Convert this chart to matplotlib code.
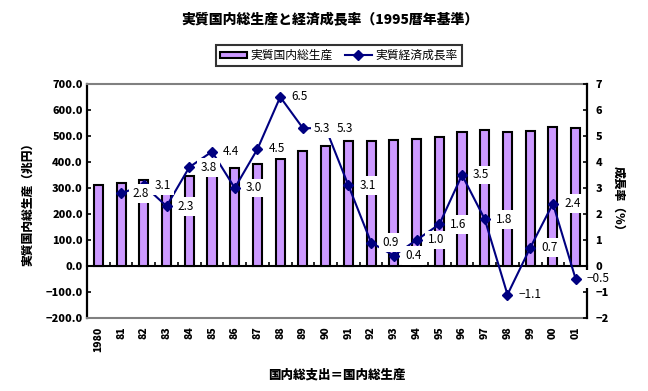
import numpy as np
import matplotlib.pyplot as plt

plt.rcParams['font.family'] = ['Noto Sans CJK JP', 'DejaVu Sans']

years = ['1980', '81', '82', '83', '84', '85', '86', '87', '88', '89', '90',
         '91', '92', '93', '94', '95', '96', '97', '98', '99', '00', '01']
gdp = [310, 318, 329, 338, 348, 363, 375, 393, 410, 441, 463,
       480, 482, 486, 489, 496, 514, 523, 517, 519, 534, 531]
growth = [None, 2.8, 3.1, 2.3, 3.8, 4.4, 3.0, 4.5, 6.5, 5.3, 5.3,
          3.1, 0.9, 0.4, 1.0, 1.6, 3.5, 1.8, -1.1, 0.7, 2.4, -0.5]

x = np.arange(len(years))
gx = [i for i, g in zip(x, growth) if g is not None]
gy = [g for g in growth if g is not None]

fig = plt.figure(figsize=(6.48, 3.91), dpi=100)
ax = fig.add_axes([0.1343, 0.1867, 0.7716, 0.5985])
ax2 = ax.twinx()

bars = ax.bar(x, gdp, width=0.4, color='#CC99FF', edgecolor='black', linewidth=1.5,
              zorder=2, label='実質国内総生産')
ax.set_xlim(-0.5, len(years) - 0.5)
ax.set_ylim(-200, 700)
ax.set_yticks(np.arange(-200, 701, 100))
ax.set_yticklabels([f'{v:.1f}'.replace('-', '\u2212') for v in np.arange(-200, 701, 100)],
                   fontweight='heavy', fontsize=7.8)
ax.set_xticks(x)
ax.set_xticklabels(years, rotation=90, fontweight='heavy', fontsize=7.5)
ax.tick_params(axis='x', length=0, pad=6)
ax.tick_params(axis='y', direction='in', length=3, width=1.2, pad=3)
for s in ['top', 'bottom']:
    ax.spines[s].set_color('#808080')
    ax.spines[s].set_linewidth(1.5)
ax.spines['left'].set_linewidth(1.6)
ax.spines['right'].set_visible(False)

# category axis crossing at zero
sec = ax.secondary_xaxis(2 / 9)
sec.set_xticks(np.arange(-0.5, len(years), 1.0))
sec.tick_params(axis='x', direction='in', length=3, width=1.2, labelbottom=False, labeltop=False)
sec.spines['bottom'].set_linewidth(1.5)
sec.spines['bottom'].set_color('black')

ax.set_ylabel('実質国内総生産（兆円）', fontweight='heavy', fontsize=8.5, labelpad=9)
ax.set_xlabel('国内総支出＝国内総生産', fontweight='heavy', fontsize=9, labelpad=12)

line, = ax2.plot(gx, gy, color='#000080', linewidth=1.5, marker='D', markersize=5.5,
                 zorder=3, label='実質経済成長率')
ax2.set_ylim(-2, 7)
ax2.set_yticks(np.arange(-2, 8, 1))
ax2.set_yticklabels([str(v).replace('-', '\u2212') for v in range(-2, 8)],
                    fontweight='heavy', fontsize=7.8)
ax2.tick_params(axis='y', direction='in', length=3, width=1.2, pad=6)
for s in ['top', 'bottom', 'left']:
    ax2.spines[s].set_visible(False)
ax2.spines['right'].set_linewidth(1.6)
ax2.set_ylabel('成長率（%）', fontweight='heavy', fontsize=8.5, rotation=270, labelpad=12)

for xi, yi in zip(gx, gy):
    ax2.annotate(f'{yi:.1f}'.replace('-', '\u2212'), (xi, yi), xytext=(8, 0),
                 textcoords='offset points', ha='left', va='center', fontsize=8.5,
                 color='black', zorder=5, annotation_clip=False,
                 bbox=dict(boxstyle='square,pad=0.25', fc='white', ec='none'))

fig.suptitle('実質国内総生産と経済成長率（1995暦年基準）', fontweight='heavy', fontsize=10,
             x=0.51, y=0.965)
leg = fig.legend([bars, line], ['実質国内総生産', '実質経済成長率'], loc='upper center',
                 bbox_to_anchor=(0.523, 0.9), ncol=2, fontsize=8.5, frameon=True,
                 fancybox=False, edgecolor='black', handlelength=2.3, handleheight=0.5,
                 columnspacing=1.0, handletextpad=0.3, borderpad=0.35)
leg.get_frame().set_linewidth(1.5)

fig.savefig('out.png', dpi=100)
